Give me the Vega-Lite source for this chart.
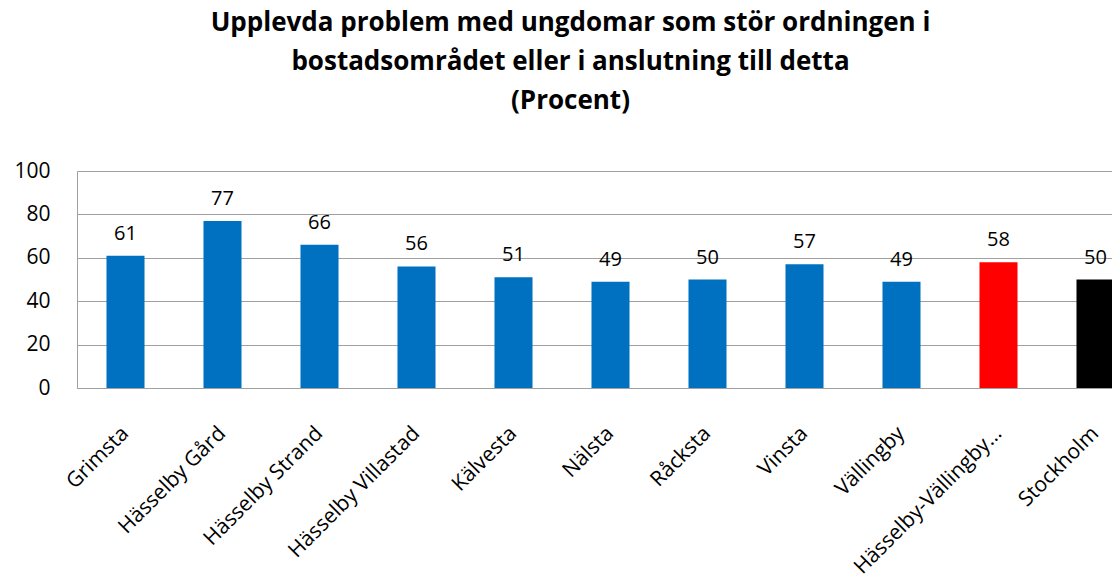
{
  "$schema": "https://vega.github.io/schema/vega-lite/v6.json",
  "autosize": "none",
  "padding": {"left": 77, "top": 171, "right": 0, "bottom": 188},
  "width": 1035,
  "height": 217,
  "background": "white",
  "title": {
    "text": ["Upplevda problem med ungdomar som stör ordningen i", "bostadsområdet eller i anslutning till detta", "(Procent)"],
    "font": "Open Sans",
    "fontSize": 26,
    "fontWeight": "bold",
    "color": "#000000",
    "lineHeight": 39,
    "anchor": "middle",
    "dx": -24,
    "offset": 46
  },
  "data": {
    "values": [
      {"area": "Grimsta", "value": 61, "group": "del"},
      {"area": "Hässelby Gård", "value": 77, "group": "del"},
      {"area": "Hässelby Strand", "value": 66, "group": "del"},
      {"area": "Hässelby Villastad", "value": 56, "group": "del"},
      {"area": "Kälvesta", "value": 51, "group": "del"},
      {"area": "Nälsta", "value": 49, "group": "del"},
      {"area": "Råcksta", "value": 50, "group": "del"},
      {"area": "Vinsta", "value": 57, "group": "del"},
      {"area": "Vällingby", "value": 49, "group": "del"},
      {"area": "Hässelby-Vällingby…", "value": 58, "group": "sdo"},
      {"area": "Stockholm", "value": 50, "group": "stad"}
    ]
  },
  "encoding": {
    "x": {
      "field": "area",
      "type": "nominal",
      "sort": null,
      "title": null,
      "scale": {"range": [0, 1067], "paddingInner": 0.608, "paddingOuter": 0.304},
      "axis": {
        "labelAngle": -45,
        "labelAlign": "right",
        "labelBaseline": "middle",
        "labelFont": "Open Sans",
        "labelFontSize": 21,
        "labelColor": "#000000",
        "labelPadding": 42,
        "labelLimit": 0,
        "labelOverlap": false,
        "ticks": false,
        "domainColor": "#a0a0a0",
        "domainWidth": 1,
        "grid": false
      }
    },
    "y": {
      "field": "value",
      "type": "quantitative",
      "title": null,
      "scale": {"domain": [0, 100]},
      "axis": {
        "values": [0, 20, 40, 60, 80, 100],
        "labelFont": "Open Sans",
        "labelFontSize": 21,
        "labelColor": "#000000",
        "labelPadding": 27,
        "ticks": false,
        "domainColor": "#a0a0a0",
        "gridColor": "#a0a0a0",
        "gridWidth": 1
      }
    }
  },
  "layer": [
    {
      "mark": {"type": "bar"},
      "encoding": {
        "color": {
          "field": "group",
          "type": "nominal",
          "scale": {"domain": ["del", "sdo", "stad"], "range": ["#0070C0", "#FF0000", "#000000"]},
          "legend": null
        }
      }
    },
    {
      "mark": {"type": "text", "baseline": "bottom", "dy": -12, "font": "Open Sans", "fontSize": 20, "color": "#000000"},
      "encoding": {"text": {"field": "value", "type": "quantitative"}}
    }
  ],
  "config": {"view": {"stroke": null}}
}
